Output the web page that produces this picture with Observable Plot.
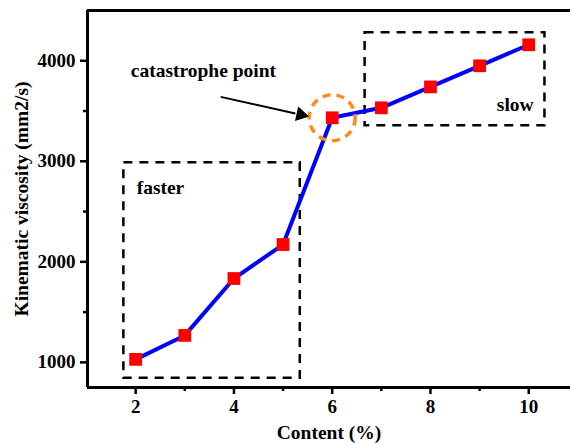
<!DOCTYPE html>
<html>
<head>
<meta charset="utf-8">
<script src="https://cdn.jsdelivr.net/npm/d3@7"></script>
<script src="https://cdn.jsdelivr.net/npm/@observablehq/plot@0.6"></script>
<style>
  html, body { margin: 0; padding: 0; background: #fff; }
  #chart svg { display: block; }
  #chart svg, #chart svg text { font-family: "Liberation Serif", "Times New Roman", Times, "DejaVu Serif", serif !important; font-weight: bold; }
</style>
</head>
<body>
<div id="chart"></div>
<script>
// Data
const content = [2, 3, 4, 5, 6, 7, 8, 9, 10];
const viscosity = [1030, 1268, 1834, 2172, 3433, 3532, 3740, 3950, 4159];

const xTicks = [2, 4, 6, 8, 10];
const xMinorTicks = [3, 5, 7, 9];
const yTicks = [1000, 2000, 3000, 4000];
const yMinorTicks = [1500, 2500, 3500];

// Dashed region boxes
const boxNames = ["faster", "slow"];
const boxX1 = [1.76, 6.67];
const boxX2 = [5.35, 10.33];
const boxY1 = [841, 3353];
const boxY2 = [2985, 4278];

// Annotation texts
const noteText = ["catastrophe point", "faster", "slow"];
const noteX = [1.90, 2.02, 10.10];
const noteY = [3900, 2738, 3562];
const noteAnchor = ["start", "start", "end"];

// Arrow to catastrophe point
const arrowFrom = [3.73, 3641];
const arrowTo = [5.25, 3475];
const arrowHead = [5.36, 3463];
const catastropheIndex = 4;

const points = content.map((c, i) => ({x: c, y: viscosity[i]}));
const boxes = boxNames.map((n, i) => ({name: n, x1: boxX1[i], x2: boxX2[i], y1: boxY1[i], y2: boxY2[i]}));
const notes = noteText.map((t, i) => ({text: t, x: noteX[i], y: noteY[i], anchor: noteAnchor[i]}));

const xDomain = [1.02, 10.85];
const yDomain = [750, 4500];
const font = "Liberation Serif, Times New Roman, Times, DejaVu Serif, serif";

const noteOpts = {x: "x", y: "y", text: "text", fontSize: 19.5, fontWeight: "bold", fontFamily: font, fill: "#000"};

const chart = Plot.plot({
  width: 570,
  height: 445,
  marginLeft: 87,
  marginRight: 0,
  marginTop: 10,
  marginBottom: 58,
  style: {fontFamily: font, fontWeight: "bold", fontSize: "19px", color: "#000", background: "#fff"},
  x: {domain: xDomain},
  y: {domain: yDomain},
  marks: [
    // Minor ticks
    Plot.axisX({ticks: xMinorTicks, tickSize: 4, tickFormat: () => "", strokeWidth: 2.5, label: null}),
    Plot.axisY({ticks: yMinorTicks, tickSize: 4, tickFormat: () => "", strokeWidth: 2.5, label: null}),
    // Major ticks
    Plot.axisX({ticks: xTicks, tickSize: 7, tickPadding: 5, tickFormat: d => String(d), strokeWidth: 2.5, label: null, fontSize: 19, fontFamily: font, fontWeight: "bold"}),
    Plot.axisY({ticks: yTicks, tickSize: 7, tickPadding: 5, tickFormat: d => String(d), strokeWidth: 2.5, label: null, fontSize: 19, fontFamily: font, fontWeight: "bold"}),
    // Frame lines (left, top, bottom)
    Plot.ruleY([yDomain[0]], {stroke: "#000", strokeWidth: 3}),
    Plot.ruleY([yDomain[1]], {stroke: "#000", strokeWidth: 3}),
    Plot.ruleX([xDomain[0]], {stroke: "#000", strokeWidth: 3}),
    // Dashed boxes
    Plot.rect(boxes, {x1: "x1", x2: "x2", y1: "y1", y2: "y2", fill: "none", stroke: "#000", strokeWidth: 2.5, strokeDasharray: "9,7"}),
    // Line and markers
    Plot.line(points, {x: "x", y: "y", stroke: "#0000ff", strokeWidth: 4}),
    Plot.dot(points, {x: "x", y: "y", symbol: "square", r: 7.2, fill: "#ff0000", stroke: "none"}),
    // Orange dashed circle around catastrophe point
    Plot.dot([points[catastropheIndex]], {x: "x", y: "y", r: 23, fill: "none", stroke: "#ff8c1a", strokeWidth: 3.5, strokeDasharray: "8,6"}),
    // Arrow
    Plot.link([{x1: arrowFrom[0], y1: arrowFrom[1], x2: arrowTo[0], y2: arrowTo[1]}], {x1: "x1", y1: "y1", x2: "x2", y2: "y2", stroke: "#000", strokeWidth: 2}),
    Plot.dot([{x: arrowHead[0], y: arrowHead[1]}], {x: "x", y: "y", symbol: "triangle", r: 5.5, fill: "#000", rotate: 102.6}),
    // Annotation texts
    Plot.text(notes.filter(d => d.anchor === "start"), {...noteOpts, textAnchor: "start"}),
    Plot.text(notes.filter(d => d.anchor === "end"), {...noteOpts, textAnchor: "end"}),
    // Axis titles
    Plot.text(["Content (%)"], {frameAnchor: "bottom", dy: 45, textAnchor: "middle", lineAnchor: "middle", fontSize: 19.5, fontWeight: "bold", fontFamily: font, fill: "#000"}),
    Plot.text(["Kinematic viscosity (mm2/s)"], {frameAnchor: "left", dx: -66, rotate: -90, textAnchor: "middle", lineAnchor: "middle", fontSize: 19.5, fontWeight: "bold", fontFamily: font, fill: "#000"})
  ]
});

document.getElementById("chart").appendChild(chart);
</script>
</body>
</html>
